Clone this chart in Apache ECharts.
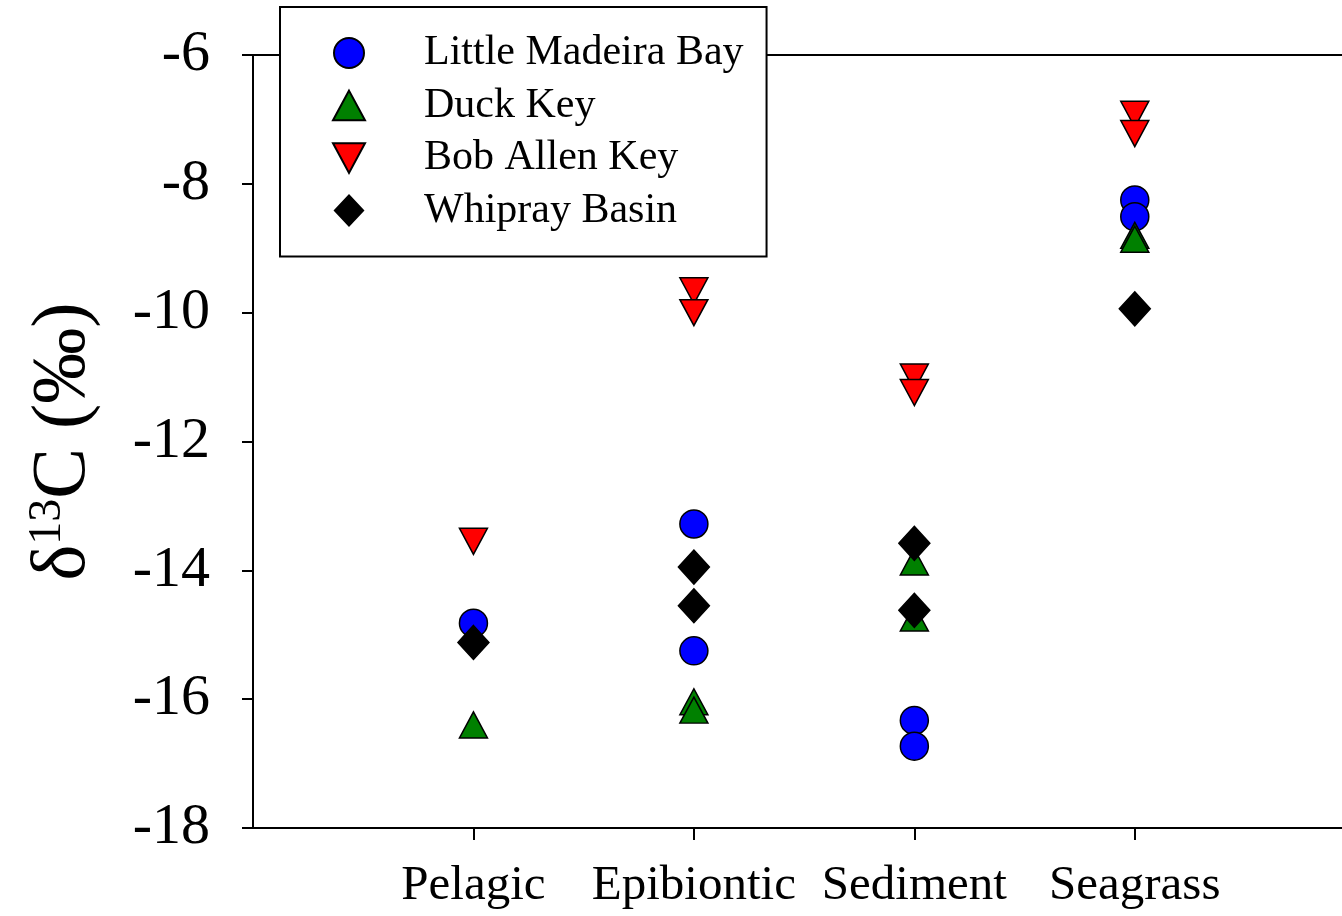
<!DOCTYPE html>
<html>
<head>
<meta charset="utf-8">
<script src="https://cdn.jsdelivr.net/npm/echarts@6/dist/echarts.min.js"></script>
<style>
html,body{margin:0;padding:0;background:#fff;}
#chart{width:1342px;height:916px;}
</style>
</head>
<body>
<div id="chart"></div>
<script>
const categories = ['Pelagic', 'Epibiontic', 'Sediment', 'Seagrass'];
const yTicks = [-18, -16, -14, -12, -10, -8, -6];
// values per category (one inner list per category)
const littleMadeiraBay = [[-14.82], [-13.28, -15.25], [-16.33, -16.73], [-8.25, -8.51]];
const duckKey = [[-16.40], [-16.04, -16.17], [-13.87, -14.74], [-8.80, -8.86]];
const bobAllenKey = [[-13.55], [-9.66, -10.00], [-11.00, -11.24], [-6.92, -7.22]];
const whiprayBasin = [[-15.12], [-13.95, -14.55], [-13.58, -14.62], [-9.94]];

const FONT = "'Liberation Serif', 'Times New Roman', serif";

function toPoints(perCat) {
  const pts = [];
  perCat.forEach((vals, i) => vals.forEach(v => pts.push([i + 1, v])));
  return pts;
}

const chart = echarts.init(document.getElementById('chart'));
const border = { borderColor: '#000', borderWidth: 1.5, opacity: 1 };

chart.setOption({
  animation: false,
  backgroundColor: '#fff',
  grid: { left: 253, right: 0, top: 55, bottom: 88, containLabel: false },
  legend: {
    orient: 'vertical',
    left: 280,
    top: 7,
    padding: [25, 23, 25, 52],
    itemGap: 10.5,
    itemWidth: 32,
    itemHeight: 30,
    backgroundColor: '#fff',
    borderColor: '#000',
    borderWidth: 2,
    textStyle: { fontFamily: FONT, fontSize: 42, color: '#000', lineHeight: 42, padding: [0, 0, 0, 54] },
    data: [
      { name: 'Little Madeira Bay', icon: 'path://M14,0 A14,14 0 1,1 13.99,0 Z' },
      { name: 'Duck Key', icon: 'path://M14,0 L28,26 L0,26 Z' },
      { name: 'Bob Allen Key', icon: 'path://M0,0 L28,0 L14,26 Z' },
      { name: 'Whipray Basin', icon: 'path://M16,0 L32,17 L16,34 L0,17 Z' }
    ]
  },
  xAxis: [{
    type: 'value',
    min: 0,
    max: 4.94,
    interval: 1,
    position: 'bottom',
    axisLine: { show: true, lineStyle: { color: '#000', width: 2 } },
    axisTick: { show: true, inside: false, length: 12, customValues: [1, 2, 3, 4], lineStyle: { color: '#000', width: 2 } },
    axisLabel: {
      customValues: [1, 2, 3, 4],
      formatter: v => categories[Math.round(v) - 1] || '',
      fontFamily: FONT, fontSize: 49, color: '#000', margin: 34
    },
    splitLine: { show: false }
  }, {
    type: 'value',
    min: 0,
    max: 4.94,
    position: 'top',
    axisLine: { show: true, lineStyle: { color: '#000', width: 2 } },
    axisTick: { show: false },
    axisLabel: { show: false },
    splitLine: { show: false }
  }],
  yAxis: {
    type: 'value',
    min: yTicks[0],
    max: yTicks[yTicks.length - 1],
    interval: 2,
    axisLine: { show: true, lineStyle: { color: '#000', width: 2 } },
    axisTick: { show: true, inside: false, length: 11, lineStyle: { color: '#000', width: 2 } },
    axisLabel: { fontFamily: FONT, fontSize: 58, color: '#000', margin: 43 },
    splitLine: { show: false },
    name: '{m|δ}{s|13}{m|C (‰)}',
    nameLocation: 'middle',
    nameRotate: 90,
    nameGap: 150,
    nameTextStyle: {
      fontFamily: FONT, color: '#000', fontSize: 76,
      rich: {
        m: { fontFamily: FONT, fontSize: 76, color: '#000' },
        s: { fontFamily: FONT, fontSize: 46, color: '#000', verticalAlign: 'top', padding: [0, 0, 32, 0] }
      }
    }
  },
  series: [
    {
      name: 'Little Madeira Bay', type: 'scatter', symbol: 'circle', symbolSize: 28,
      itemStyle: Object.assign({ color: '#0000ff' }, border),
      data: toPoints(littleMadeiraBay)
    },
    {
      name: 'Duck Key', type: 'scatter', symbol: 'triangle', symbolSize: [28, 26],
      itemStyle: Object.assign({ color: '#008000' }, border),
      data: toPoints(duckKey)
    },
    {
      name: 'Bob Allen Key', type: 'scatter', symbol: 'triangle', symbolSize: [28, 26], symbolRotate: 180,
      itemStyle: Object.assign({ color: '#ff0000' }, border),
      data: toPoints(bobAllenKey)
    },
    {
      name: 'Whipray Basin', type: 'scatter', symbol: 'diamond', symbolSize: [31, 34],
      itemStyle: Object.assign({ color: '#000000' }, border),
      data: toPoints(whiprayBasin)
    }
  ]
});
</script>
</body>
</html>
